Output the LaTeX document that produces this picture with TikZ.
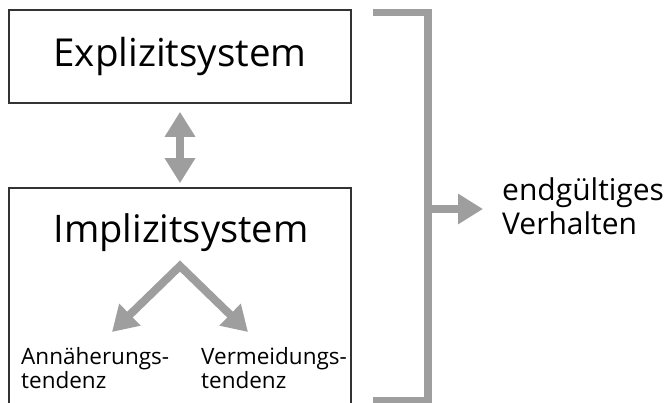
\documentclass[tikz,border=0pt]{standalone}
\usepackage{fontspec}
\setmainfont{Open Sans}
\usetikzlibrary{arrows.meta}
\definecolor{bargray}{RGB}{158,158,158}
\tikzset{
  sysbox/.style={draw=black!80, line width=1.6pt, minimum width=342pt, inner sep=0pt},
  fat/.style={draw=bargray, line width=8pt},
  fattip/.tip={Triangle[length=25pt,width=29pt]},
  txt/.style={inner sep=0pt, align=left, anchor=base west},
}
\begin{document}
\begin{tikzpicture}[x=1pt, y=-1pt]
  \clip (0,0) rectangle (664,403);
  \node (expl) [sysbox, minimum height=93pt, font=\fontsize{38.5}{40}\selectfont] at (180,56.5) {Explizitsystem};
  \node (impl) [sysbox, minimum height=230pt] at (180,303) {};
  \node (impltitle) [anchor=base, inner sep=0pt, font=\fontsize{38}{40}\selectfont] at (181,243) {Implizitsystem};
  \node (annae) [txt, font=\fontsize{22.5}{23.5}\selectfont] at (21,388) {Annäherungs-\\tendenz};
  \node (vermeid) [txt, font=\fontsize{22.5}{23.5}\selectfont] at (201,388) {Vermeidungs-\\tendenz};
  \node (result) [txt, font=\fontsize{30}{34}\selectfont] at (502,235) {endgültiges\\Verhalten};
  \draw[fat, fattip-fattip, shorten <=8pt, shorten >=4pt] (expl) -- (impl);
  \coordinate (split) at (180,266);
  \coordinate (tipA) at (112,332);
  \coordinate (tipV) at (248,332);
  \draw[fat, fattip-fattip, line join=miter] (tipA) -- (split) -- (tipV);
  \draw[fat, line width=7.5pt] (373,12.5) -- (428,12.5) -- (428,400.5) -- (373,400.5);
  \coordinate (join) at (428,209);
  \draw[fat, -fattip, shorten >=19pt] (join) -- (join -| result.west);
\end{tikzpicture}
\end{document}
